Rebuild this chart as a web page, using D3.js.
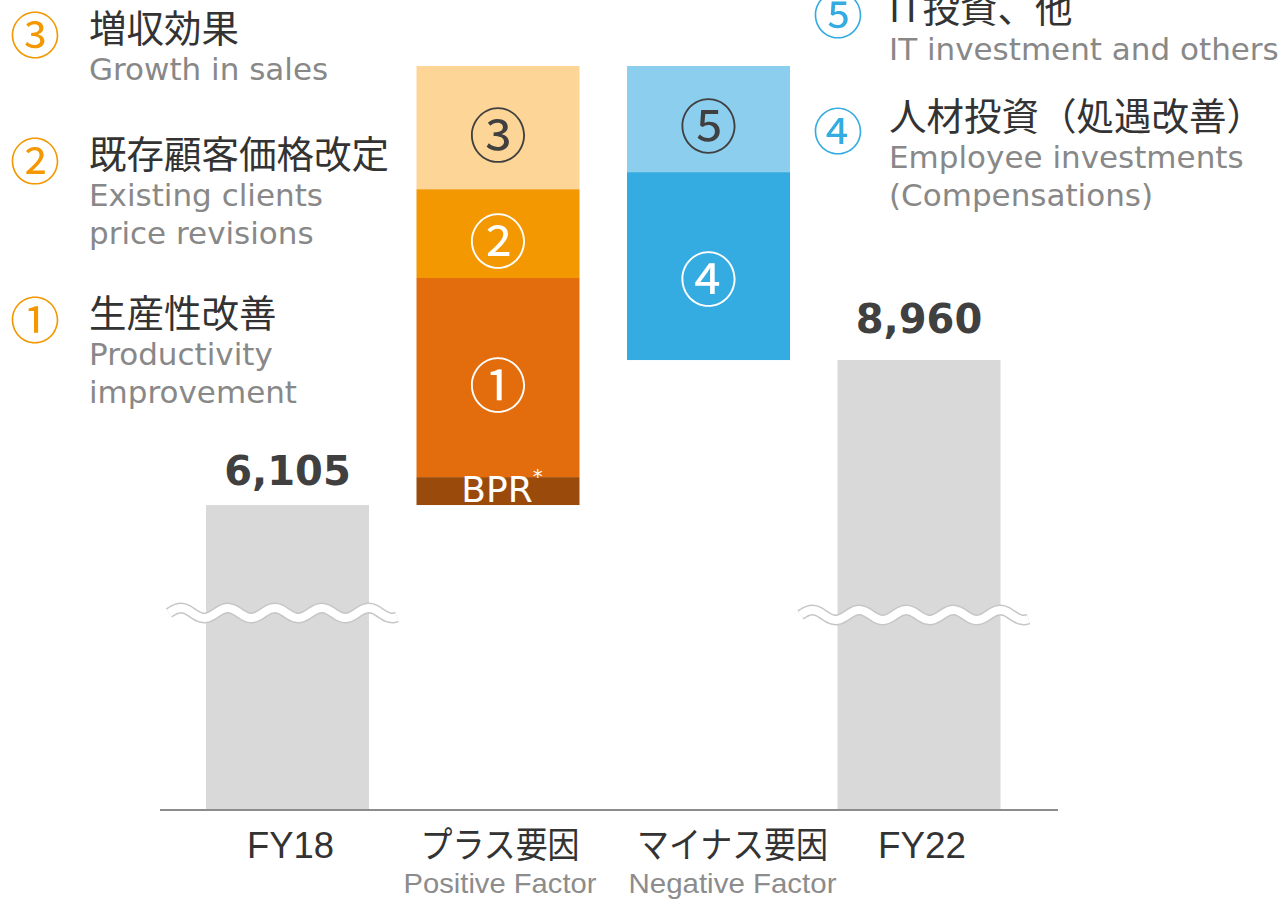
<!DOCTYPE html>
<html>
<head>
<meta charset="utf-8">
<script src="https://cdn.jsdelivr.net/npm/d3@7"></script>
<style>
  body { margin: 0; background: #fff; }
  svg { display: block; }
</style>
</head>
<body>
<svg id="chart" width="1288" height="900"></svg>
<script>
// categories on the x axis
const categories = ['FY18', 'プラス要因', 'マイナス要因', 'FY22'];
const subLabels = ['', 'Positive Factor', 'Negative Factor', ''];

// start / end totals
const startValue = 6105;
const endValue = 8960;

// positive factors, stacked from the bottom up
const positiveKeys = ['BPR', '①', '②', '③'];
const positiveValues = [550, 3920, 1750, 2425];

// negative factors, stacked from the top down
const negativeKeys = ['⑤', '④'];
const negativeValues = [2090, 3700];

// legend texts
const legendLeft = [
  { num: '③', jp: '増収効果', en: ['Growth in sales'] },
  { num: '②', jp: '既存顧客価格改定', en: ['Existing clients', 'price revisions'] },
  { num: '①', jp: '生産性改善', en: ['Productivity', 'improvement'] }
];
const legendRight = [
  { num: '⑤', jp: 'IT投資、他', en: ['IT investment and others'] },
  { num: '④', jp: '人材投資（処遇改善）', en: ['Employee investments', '(Compensations)'] }
];

// styling
const positiveColors = ['#9a4a0a', '#e36c0c', '#f39800', '#fdd597'];
const positiveLabelColors = ['#fff', '#fff', '#fff', '#404040'];
const negativeColors = ['#8bceee', '#35ace1'];
const negativeLabelColors = ['#404040', '#fff'];
const legendLeftY = [42, 168, 327];
const legendRightY = [22, 130];
const legendRightNumShift = [0, 8];

const axisFloor = 100; // broken axis: bars are cut, this is the value at the baseline

const svg = d3.select('#chart');
const axisY = 810;
const plotTop = 66;

const x = d3.scaleBand()
  .domain(categories)
  .range([182.25, 1024.25])
  .paddingInner(0.2257)
  .paddingOuter(0.1129);

const topValue = startValue + d3.sum(positiveValues);
const y = d3.scaleLinear()
  .domain([axisFloor, topValue])
  .range([axisY, plotTop]);

const bw = x.bandwidth();
const cx = c => x(c) + bw / 2;

// build stack segments
const segments = [];
let acc = startValue;
positiveValues.forEach((v, i) => {
  segments.push({ cat: categories[1], key: positiveKeys[i], y0: acc, y1: acc + v,
    color: positiveColors[i], labelColor: positiveLabelColors[i] });
  acc += v;
});
negativeValues.forEach((v, i) => {
  segments.push({ cat: categories[2], key: negativeKeys[i], y0: acc - v, y1: acc,
    color: negativeColors[i], labelColor: negativeLabelColors[i] });
  acc -= v;
});

// total bars
const totals = [
  { cat: categories[0], value: startValue, lift: 20 },
  { cat: categories[3], value: endValue, lift: 27 }
];

svg.append('g')
  .selectAll('rect')
  .data(totals)
  .enter()
  .append('rect')
  .attr('x', d => x(d.cat))
  .attr('width', bw)
  .attr('y', d => y(d.value))
  .attr('height', d => y(axisFloor) - y(d.value))
  .attr('fill', '#d9d9d9');

svg.append('g')
  .selectAll('rect')
  .data(segments)
  .enter()
  .append('rect')
  .attr('x', d => x(d.cat))
  .attr('width', bw)
  .attr('y', d => y(d.y1))
  .attr('height', d => y(d.y0) - y(d.y1))
  .attr('fill', d => d.color);

// labels inside segments
const segLabels = svg.append('g')
  .selectAll('text')
  .data(segments)
  .enter()
  .append('text')
  .attr('x', d => cx(d.cat))
  .attr('y', d => (y(d.y0) + y(d.y1)) / 2)
  .attr('text-anchor', 'middle')
  .attr('dominant-baseline', 'central')
  .attr('fill', d => d.labelColor);

segLabels.filter(d => d.key !== 'BPR')
  .attr('font-family', '"Noto Sans CJK JP", sans-serif')
  .attr('font-size', 58)
  .attr('dy', d => d.key === '④' ? 10 : 4)
  .text(d => d.key);

const bpr = segLabels.filter(d => d.key === 'BPR')
  .attr('font-family', '"DejaVu Sans", sans-serif')
  .attr('font-size', 36)
  .attr('dy', -2)
  .attr('dx', 4);
bpr.append('tspan').text(d => d.key);
bpr.append('tspan').text('*').attr('font-size', 20).attr('dy', -13);

// value labels
svg.append('g')
  .selectAll('text')
  .data(totals)
  .enter()
  .append('text')
  .attr('x', d => cx(d.cat))
  .attr('y', d => y(d.value) - d.lift)
  .attr('text-anchor', 'middle')
  .attr('font-family', '"DejaVu Sans", sans-serif')
  .attr('font-weight', 'bold')
  .attr('font-size', 40)
  .attr('fill', '#404040')
  .text(d => d3.format(',')(d.value));

// broken-axis wave marks
const wave = d3.line().curve(d3.curveBasis);
totals.forEach(d => {
  const x0 = x(d.cat) - 37;
  const x1 = x(d.cat) + bw + 29;
  const yc = d.cat === 'FY18' ? 613 : 615;
  const period = 47;
  const pts = [];
  for (let xx = x0; xx <= x1; xx += 2) {
    pts.push([xx, yc + 5 * Math.sin((xx - x0) / period * 2 * Math.PI + Math.PI)]);
  }
  svg.append('path').attr('d', wave(pts)).attr('fill', 'none')
    .attr('stroke', '#c6c6c6').attr('stroke-width', 11);
  svg.append('path').attr('d', wave(pts)).attr('fill', 'none')
    .attr('stroke', '#fff').attr('stroke-width', 8);
});

// baseline axis
svg.append('line')
  .attr('x1', 160).attr('x2', 1058)
  .attr('y1', axisY).attr('y2', axisY)
  .attr('stroke', '#8c8c8c')
  .attr('stroke-width', 2);

// category labels (condensed look)
const catWidths = [87, 159, 191, 88];
const subWidths = [0, 193, 208, 0];
const catShift = [3, 2, 24, 3];
svg.append('g')
  .selectAll('text')
  .data(categories)
  .enter()
  .append('text')
  .attr('x', (d, i) => cx(d) + catShift[i])
  .attr('y', 858)
  .attr('text-anchor', 'middle')
  .attr('font-family', '"Liberation Sans", "Noto Sans CJK JP", sans-serif')
  .attr('font-size', 36)
  .attr('fill', '#333')
  .attr('textLength', (d, i) => catWidths[i])
  .attr('lengthAdjust', 'spacingAndGlyphs')
  .text(d => d);

svg.append('g')
  .selectAll('text')
  .data(subLabels.map((s, i) => ({ s, i })).filter(d => d.s))
  .enter()
  .append('text')
  .attr('x', d => cx(categories[d.i]) + catShift[d.i])
  .attr('y', 893)
  .attr('text-anchor', 'middle')
  .attr('font-family', '"Liberation Sans", sans-serif')
  .attr('font-size', 28)
  .attr('fill', '#8c8c8c')
  .attr('textLength', d => subWidths[d.i])
  .attr('lengthAdjust', 'spacingAndGlyphs')
  .text(d => d.s);

// legends
const drawLegend = (items, ys, numShift, numX, textX, numColor) => {
  const g = svg.append('g');
  items.forEach((item, i) => {
    const ly = ys[i];
    g.append('text')
      .attr('x', numX)
      .attr('y', ly + 12 + numShift[i])
      .attr('text-anchor', 'middle')
      .attr('font-family', '"Noto Sans CJK JP", sans-serif')
      .attr('font-size', 50)
      .attr('fill', numColor)
      .text(item.num);
    g.append('text')
      .attr('x', textX)
      .attr('y', ly)
      .attr('font-family', '"Noto Sans CJK JP", sans-serif')
      .attr('font-size', 37.5)
      .attr('fill', '#333')
      .text(item.jp);
    item.en.forEach((line, j) => {
      g.append('text')
        .attr('x', textX)
        .attr('y', ly + 38 + j * 38)
        .attr('font-family', '"DejaVu Sans", sans-serif')
        .attr('font-size', 31)
        .attr('fill', '#888')
        .text(line);
    });
  });
};
drawLegend(legendLeft, legendLeftY, [0, 0, 0], 35, 89, '#f39800');
drawLegend(legendRight, legendRightY, legendRightNumShift, 838, 889, '#35ace1');
</script>
</body>
</html>
